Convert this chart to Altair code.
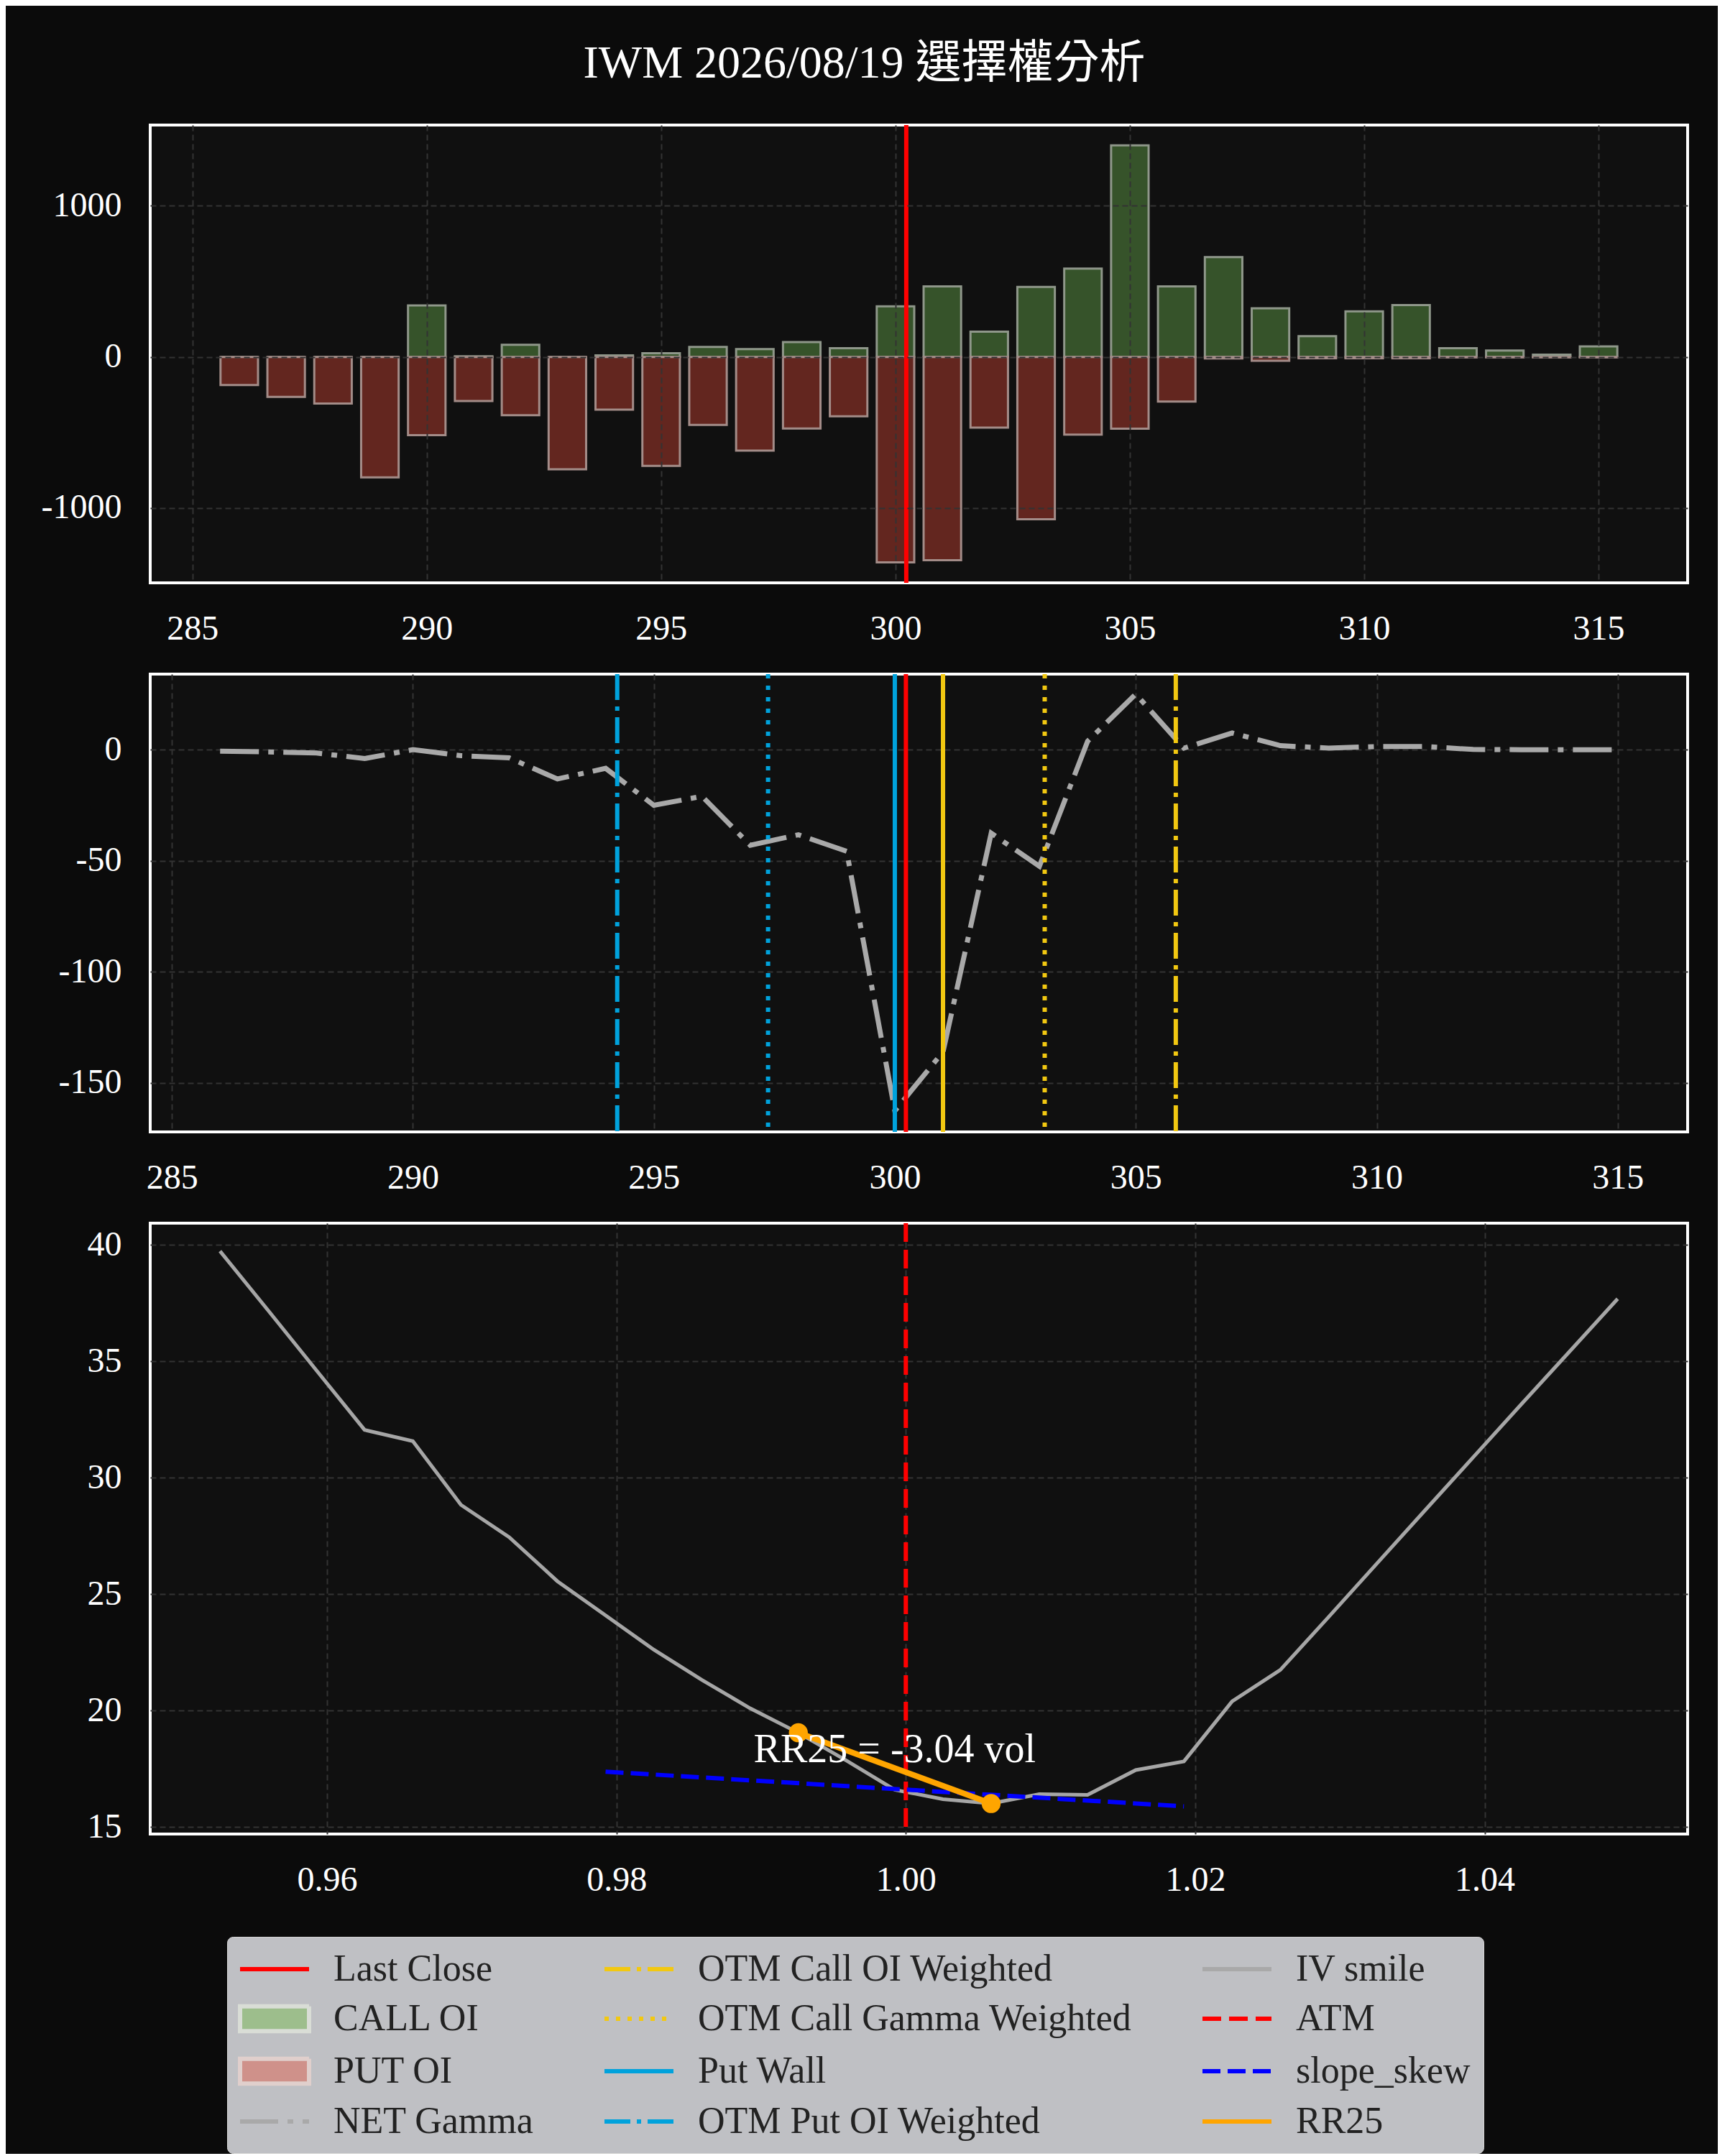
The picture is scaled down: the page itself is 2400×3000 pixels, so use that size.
import altair as alt
import pandas as pd

# chain
strikes = [286, 287, 288, 289, 290, 291, 292, 293, 294, 295, 296, 297, 298, 299, 300,
           301, 302, 303, 304, 305, 306, 307, 308, 309, 310, 311, 312, 313, 314, 315]
call_oi = [0, 0, 0, 0, 341, 4, 81, 0, 10, 25, 66, 52, 99, 58, 335,
           467, 167, 463, 585, 1401, 467, 661, 322, 138, 302, 343, 58, 43, 15, 70]
put_oi = [186, 264, 308, 797, 517, 291, 386, 744, 349, 721, 450, 620, 473, 393, 1359,
          1345, 467, 1074, 514, 475, 295, 10, 25, 8, 8, 8, 3, 3, 3, 3]
net_gamma = [-0.7, -1.0, -1.5, -4.0, 0.0, -2.7, -3.7, -13.2, -8.4, -25.0, -21.0, -43.0, -38.3, -45.7, -162.5,
             -136.0, -37.6, -52.5, 3.8, 25.0, 0.7, 7.5, 1.8, 0.7, 1.4, 1.4, 0.1, 0.0, 0.0, 0.0]
iv_smile = [39.74, 37.19, 34.62, 32.06, 31.58, 28.84, 27.45, 25.56, 24.09, 22.62, 21.32, 20.10, 19.05, 17.85, 16.60,
            16.20, 16.01, 16.41, 16.38, 17.45, 17.82, 20.40, 21.75, 24.02, 26.31, 28.60, 30.88, 33.16, 35.42, 37.69]

last_close = 300.23
level_names = ["OTM Put OI Weighted", "OTM Put Gamma Weighted", "Put Wall", "Last Close",
               "Call Wall", "OTM Call Gamma Weighted", "OTM Call OI Weighted"]
level_values = [294.24, 297.37, 300.0, 300.23, 301.0, 303.11, 305.83]

skew_strikes = [294, 306]
skew_iv = [17.38, 15.89]
rr_strikes = [298, 302]
rr_iv = [19.05, 16.01]

FONT = "Liberation Serif, Noto Sans CJK TC"
RED = "#ff0000"
CYAN = "#00a2dc"
GOLD = "#f2c811"
GREY = "#a9a9a9"
DASHDOT = [36, 9, 6, 9]
DOTTED = [6, 10]

chain = pd.DataFrame({"strike": strikes, "call": call_oi, "put": put_oi,
                      "gamma": net_gamma, "iv": iv_smile})
chain["lo"] = chain["strike"] - 0.4
chain["hi"] = chain["strike"] + 0.4
chain["put_neg"] = -chain["put"]
chain["zero"] = 0
chain["m"] = chain["strike"] / last_close

W = 2139
ticks_strike = list(range(285, 316, 5))
neg_expr = "datum.value < 0 ? '-' + format(-datum.value, 'd') : format(datum.value, 'd')"


def sx(field, domain, z=0):
    return alt.X(field, type="quantitative", title=None,
                 scale=alt.Scale(domain=domain, nice=False, zero=False),
                 axis=alt.Axis(values=ticks_strike, format="d", zindex=z))


# --- panel 1: open interest
xd1 = [284.1, 316.9]
yax1 = alt.Axis(values=[-1000, 0, 1000], labelExpr=neg_expr, zindex=1)
ys1 = alt.Scale(domain=[-1495, 1535], nice=False, zero=False)

calls = alt.Chart(chain).mark_rect(fill="#36532a", stroke="#8f978a", strokeWidth=3).encode(
    x=sx("lo", xd1, 1), x2="hi",
    y=alt.Y("call:Q", scale=ys1, axis=yax1, title=None), y2="zero")
puts = alt.Chart(chain).mark_rect(fill="#63261f", stroke="#a38c88", strokeWidth=3).encode(
    x=sx("lo", xd1, 1), x2="hi",
    y=alt.Y("put_neg:Q", scale=ys1, axis=yax1, title=None), y2="zero")
close_df = pd.DataFrame({"v": [last_close]})
close1 = alt.Chart(close_df).mark_rule(color=RED, strokeWidth=6).encode(x=sx("v", xd1, 1))
oi_panel = alt.layer(calls, puts, close1).properties(width=W, height=637)

# --- panel 2: net gamma
xd2 = [284.55, 316.45]
yax2 = alt.Axis(values=[-150, -100, -50, 0], labelExpr=neg_expr)
ys2 = alt.Scale(domain=[-172, 34], nice=False, zero=False)
gamma = alt.Chart(chain).mark_line(color=GREY, strokeWidth=7, strokeDash=[54, 13, 8, 13]).encode(
    x=sx("strike", xd2), y=alt.Y("gamma:Q", scale=ys2, axis=yax2, title=None))

levels = pd.DataFrame({"name": level_names, "value": level_values})
level_style = {
    "OTM Put OI Weighted": (CYAN, DASHDOT),
    "OTM Put Gamma Weighted": (CYAN, DOTTED),
    "Put Wall": (CYAN, [1, 0]),
    "Last Close": (RED, [1, 0]),
    "Call Wall": (GOLD, [1, 0]),
    "OTM Call Gamma Weighted": (GOLD, DOTTED),
    "OTM Call OI Weighted": (GOLD, DASHDOT),
}
level_rules = []
for name, (col, dash) in level_style.items():
    level_rules.append(
        alt.Chart(levels).transform_filter(alt.datum.name == name)
        .mark_rule(color=col, strokeWidth=6, strokeDash=dash)
        .encode(x=sx("value", xd2)))
gamma_panel = alt.layer(gamma, *level_rules).properties(width=W, height=637)

# --- panel 3: IV smile
xs3 = alt.Scale(domain=[0.94778, 1.05403], nice=False, zero=False)
xax3 = alt.Axis(values=[0.96, 0.98, 1.00, 1.02, 1.04], format=".2f")
ys3 = alt.Scale(domain=[14.70, 40.94], nice=False, zero=False)
yax3 = alt.Axis(values=[15, 20, 25, 30, 35, 40], format="d")


def mx(field="m"):
    return alt.X(field, type="quantitative", scale=xs3, axis=xax3, title=None)


def iy(field="iv"):
    return alt.Y(field, type="quantitative", scale=ys3, axis=yax3, title=None)


smile = alt.Chart(chain).mark_line(color="#a6a6a6", strokeWidth=5).encode(x=mx(), y=iy())
atm = alt.Chart(pd.DataFrame({"m": [1.0]})).mark_rule(
    color=RED, strokeWidth=6, strokeDash=[26, 11]).encode(x=mx())
skew_df = pd.DataFrame({"m": [s / last_close for s in skew_strikes], "iv": skew_iv})
skew = alt.Chart(skew_df).mark_line(color="#0000ff", strokeWidth=6, strokeDash=[25, 10]).encode(
    x=mx(), y=iy())
rr_df = pd.DataFrame({"m": [s / last_close for s in rr_strikes], "iv": rr_iv})
rr_line = alt.Chart(rr_df).mark_line(color="#ffa500", strokeWidth=8).encode(x=mx(), y=iy())
rr_pts = alt.Chart(rr_df).mark_circle(color="#ffa500", size=700, opacity=1).encode(x=mx(), y=iy())
rr25 = rr_iv[1] - rr_iv[0]
note_df = pd.DataFrame({"m": [rr_df["m"].mean()], "iv": [rr_df["iv"].mean()],
                        "label": [f"RR25 = {rr25:.2f} vol"]})
note = alt.Chart(note_df).mark_text(color="white", font=FONT, fontSize=56, align="center",
                                    baseline="alphabetic", dy=-8).encode(x=mx(), y=iy(), text="label:N")

# legend entries, in the order the columns are filled
legend_names = ["Last Close", "CALL OI", "PUT OI", "NET Gamma",
                "OTM Call OI Weighted", "OTM Call Gamma Weighted", "Put Wall", "OTM Put OI Weighted",
                "IV smile", "ATM", "slope_skew", "RR25"]
LINE = "M-2,0H2"
BOX = "M-2,-0.72H2V0.72H-2Z"
legend_shapes = [LINE, BOX, BOX, LINE,
                 LINE, LINE, LINE, LINE,
                 LINE, LINE, LINE, LINE]
legend_fills = ["transparent", "#9dbe8c", "#cf918a", "transparent",
                "transparent", "transparent", "transparent", "transparent",
                "transparent", "transparent", "transparent", "transparent"]
legend_strokes = [RED, "#d9ddd6", "#e0cfcc", GREY,
                  GOLD, GOLD, CYAN, CYAN,
                  GREY, RED, "#0000ff", "#ffa500"]
legend_dashes = [[1, 0], [1, 0], [1, 0], [53, 13, 8, 13],
                 DASHDOT, DOTTED, [1, 0], DASHDOT,
                 [1, 0], [26, 11], [25, 10], [1, 0]]

leg = alt.Legend(title=None, orient="none", legendX=107, legendY=2521, columns=3,
                 columnPadding=86, rowPadding=13, labelFont=FONT, labelFontSize=52,
                 labelColor="#222222", labelLimit=1000, labelOffset=55, symbolOffset=21,
                 symbolSize=2304, symbolStrokeWidth=6, symbolOpacity=1,
                 fillColor="#bfc0c4", strokeColor="#d4d4d4", cornerRadius=8, padding=18)
leg_df = pd.DataFrame({"series": legend_names, "m": [0.9] * len(legend_names),
                       "iv": [0.0] * len(legend_names)})
legend_layer = alt.Chart(leg_df).mark_point(clip=True, opacity=1, size=2304, strokeWidth=6).encode(
    x=mx(), y=iy(),
    fill=alt.Fill("series:N", scale=alt.Scale(domain=legend_names, range=legend_fills), legend=leg),
    stroke=alt.Stroke("series:N", scale=alt.Scale(domain=legend_names, range=legend_strokes), legend=leg),
    shape=alt.Shape("series:N", scale=alt.Scale(domain=legend_names, range=legend_shapes), legend=leg),
    strokeDash=alt.StrokeDash("series:N", scale=alt.Scale(domain=legend_names, range=legend_dashes),
                              legend=leg),
)
smile_panel = alt.layer(smile, atm, skew, rr_line, rr_pts, note, legend_layer).properties(
    width=W, height=850)

chart = alt.vconcat(oi_panel, gamma_panel, smile_panel, spacing=127, bounds="flush").properties(
    title=alt.TitleParams(text="IWM 2026/08/19 選擇權分析", color="white", font=FONT, fontSize=64,
                          fontWeight="normal", anchor="middle", frame="group", dx=-76,
                          baseline="bottom", offset=-16),
    padding={"left": 47, "top": 49, "right": 40, "bottom": 0},
    background="#0b0b0b",
).configure_view(
    fill="#101010", stroke="white", strokeWidth=4
).configure_axis(
    labelFont=FONT, labelFontSize=48, labelColor="white", ticks=False, domain=False,
    gridColor="#333333", gridDash=[8, 5], gridWidth=2, labelPadding=40
)

chart.save("out.html", embed_options={"renderer": "svg", "actions": False})
